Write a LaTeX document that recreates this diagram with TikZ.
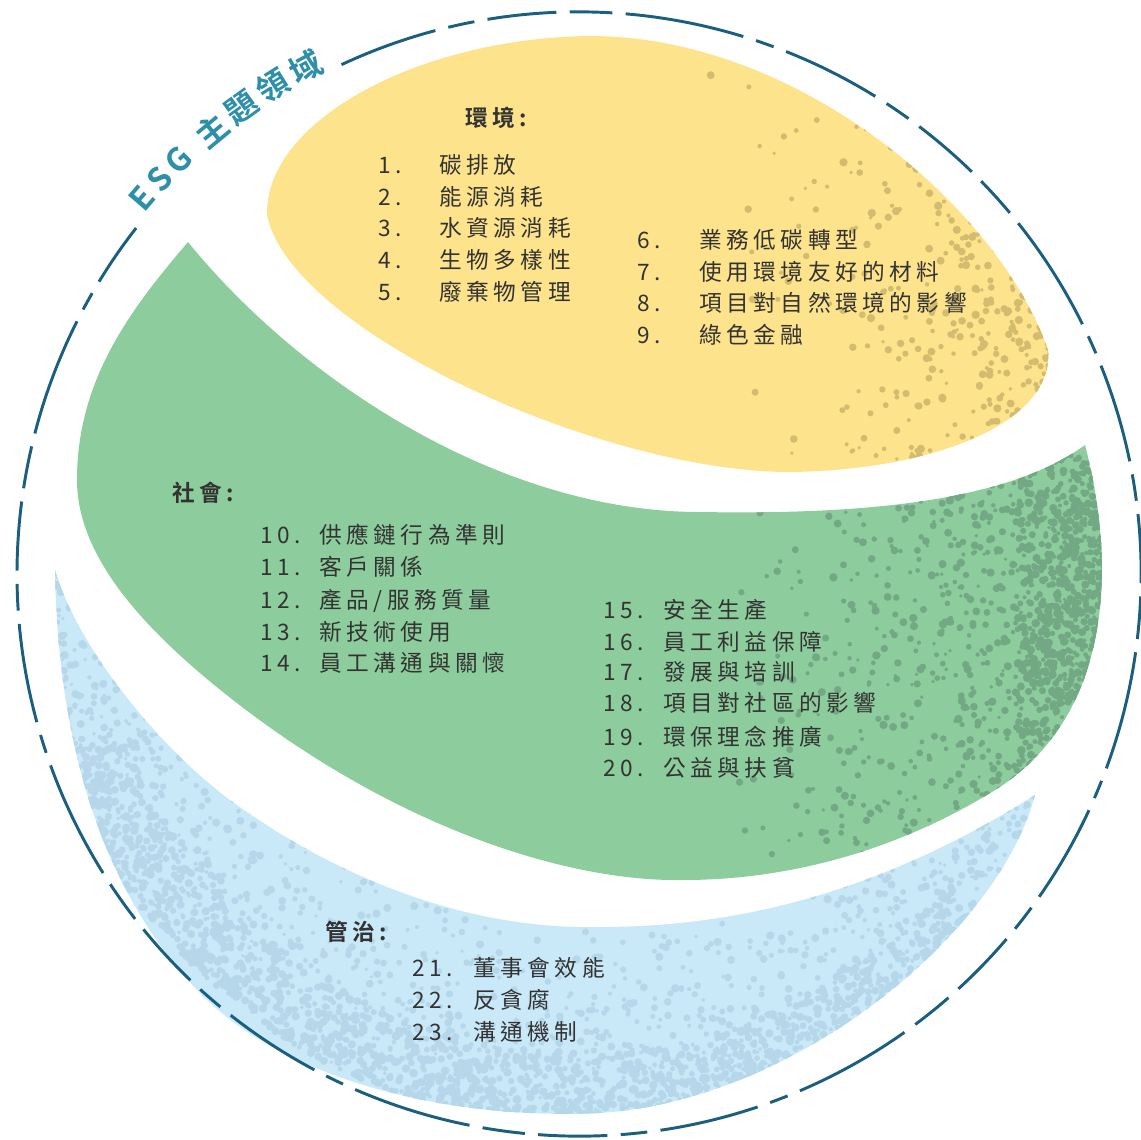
\documentclass[tikz,border=0pt]{standalone}
\usepackage{fontspec}
\newfontfamily\cjk[LetterSpace=20]{Noto Sans CJK TC}
\newfontfamily\cjkhead[LetterSpace=20]{Noto Sans CJK TC Bold}
\definecolor{yel}{HTML}{FDE38B}
\definecolor{yspk}{HTML}{D3BC70}
\definecolor{grn}{HTML}{8DCC9C}
\definecolor{gspk}{HTML}{72A884}
\definecolor{blu}{HTML}{C9E9F9}
\definecolor{bspk}{HTML}{B6D7E9}
\definecolor{circ}{HTML}{1A5E80}
\definecolor{esg}{HTML}{2E8FAA}
\definecolor{txt}{HTML}{333333}
\tikzset{
  numlbl/.style={anchor=base west, inner sep=0pt, text=txt, font=\cjk\fontsize{17}{20}\selectfont},
  itemlbl/.style={anchor=base west, inner sep=0pt, text=txt, font=\cjk\fontsize{17}{20}\selectfont},
  headlbl/.style={anchor=base west, inner sep=0pt, text=txt, font=\cjkhead\fontsize{17}{20}\selectfont},
  arcchar/.style={inner sep=0pt, text=esg, font=\cjkhead\fontsize{24}{28}\selectfont},
  ring/.style={draw=circ, line width=2.2pt, dash pattern=on 75pt off 10pt on 20pt off 10pt on 52pt off 10pt on 32pt off 10pt on 90pt off 10pt on 14pt off 10pt},
}
\def\yellowpath{(267,215) .. controls (265,120) and (420,38) .. (590,36)
  .. controls (800,36) and (1000,210) .. (1048,350)
  .. controls (1055,420) and (940,470) .. (790,472)
  .. controls (600,472) and (290,330) .. (267,215) -- cycle}
\def\greenpath{(188,242) .. controls (300,380) and (500,512) .. (700,512)
  .. controls (870,515) and (1010,500) .. (1085,445)
  .. controls (1115,560) and (1115,710) .. (1000,787)
  .. controls (900,850) and (790,880) .. (683,880)
  .. controls (570,882) and (400,830) .. (233,700)
  .. controls (150,635) and (77,560) .. (77,480)
  .. controls (77,380) and (130,310) .. (188,242) -- cycle}
\def\bluepath{(55,570) .. controls (58,760) and (110,900) .. (200,993)
  .. controls (290,1085) and (460,1120) .. (600,1113)
  .. controls (800,1100) and (1000,930) .. (1035,795)
  .. controls (900,880) and (760,927) .. (600,927)
  .. controls (470,930) and (340,880) .. (230,800)
  .. controls (150,740) and (75,640) .. (55,570) -- cycle}
\begin{document}
\begin{tikzpicture}[x=0.75pt,y=-0.75pt]
\useasboundingbox (0,0) rectangle (1141,1139);
% blobs
\fill[yel] \yellowpath;
\fill[grn] \greenpath;
\fill[blu] \bluepath;
% speckles
\begin{scope}
  \clip \yellowpath;
  \pgfmathsetseed{11}
  \foreach \i in {1,...,700}{
    \fill[yspk] ({1065-380*rnd*rnd*rnd},{40+440*rnd}) circle ({1.8+2.4*rnd});
  }
  \foreach \i in {1,...,250}{
    \fill[yspk] ({1065-360*rnd*rnd},{60+400*rnd}) circle ({1.8+2.4*rnd});
  }
\end{scope}
\begin{scope}
  \clip \greenpath;
  \pgfmathsetseed{23}
  \foreach \i in {1,...,1300}{
    \fill[gspk] ({1108-380*rnd*rnd},{440+450*rnd}) circle ({1.8+2.4*rnd});
  }
  \foreach \i in {1,...,450}{
    \fill[gspk] ({1108-90*rnd},{450+330*rnd}) circle ({2+2.5*rnd});
  }
\end{scope}
\begin{scope}
  \clip \bluepath;
  \pgfmathsetseed{37}
  \foreach \i in {1,...,2600}{
    \pgfmathsetmacro\ang{22+162*rnd}
    \pgfmathsetmacro\rad{550-220*rnd*rnd}
    \fill[bspk] ({579+\rad*cos(\ang)},{574+\rad*sin(\ang)}) circle ({1.8+2.4*rnd});
  }
  \foreach \i in {1,...,900}{
    \pgfmathsetmacro\ang{40+120*rnd}
    \pgfmathsetmacro\rad{550-70*rnd}
    \fill[bspk] ({579+\rad*cos(\ang)},{574+\rad*sin(\ang)}) circle ({2+2.5*rnd});
  }
\end{scope}
% ring
\coordinate (ctr) at (579,574);
\draw[ring] (ctr) ++(245:562) arc[start angle=245, end angle=578, radius=562];
% arc label
\foreach \c/\a [count=\k] in {E/139.3, S/136.7, G/134.0, 主/129.6, 題/125.9, 領/122.1, 域/118.3}{
  \node[arcchar, rotate={\a-90}] (esg\k) at ({579+576*cos(\a)},{574-576*sin(\a)}) {\c};
}
% environment
\node[headlbl] (henv) at (465,126) {環境:};
\foreach \n/\y/\t in {1/165/{碳排放}, 2/197/{能源消耗}, 3/228/{水資源消耗}, 4/260/{生物多樣性}, 5/292/{廢棄物管理}}{
  \node[numlbl] (n\n) at (378,{\y+8}) {\n.};
  \node[itemlbl] (t\n) at (439,{\y+8}) {\t};
}
\foreach \n/\y/\t in {6/240/{業務低碳轉型}, 7/272/{使用環境友好的材料}, 8/303/{項目對自然環境的影響}, 9/335/{綠色金融}}{
  \node[numlbl] (n\n) at (637,{\y+8}) {\n.};
  \node[itemlbl] (t\n) at (699,{\y+8}) {\t};
}
% social
\node[headlbl] (hsoc) at (172,501) {社會:};
\foreach \n/\y/\t in {10/535/{供應鏈行為準則}, 11/567/{客戶關係}, 12/600/{產品/服務質量}, 13/632/{新技術使用}, 14/663/{員工溝通與關懷}}{
  \node[numlbl] (n\n) at (260,{\y+8}) {\n.};
  \node[itemlbl] (t\n) at (319,{\y+8}) {\t};
}
\foreach \n/\y/\t in {15/610/{安全生產}, 16/642/{員工利益保障}, 17/672/{發展與培訓}, 18/703/{項目對社區的影響}, 19/737/{環保理念推廣}, 20/768/{公益與扶貧}}{
  \node[numlbl] (n\n) at (603,{\y+8}) {\n.};
  \node[itemlbl] (t\n) at (663,{\y+8}) {\t};
}
% governance
\node[headlbl] (hgov) at (325,940) {管治:};
\foreach \n/\y/\t in {21/968/{董事會效能}, 22/1000/{反貪腐}, 23/1032/{溝通機制}}{
  \node[numlbl] (n\n) at (412,{\y+8}) {\n.};
  \node[itemlbl] (t\n) at (473,{\y+8}) {\t};
}
\end{tikzpicture}
\end{document}
